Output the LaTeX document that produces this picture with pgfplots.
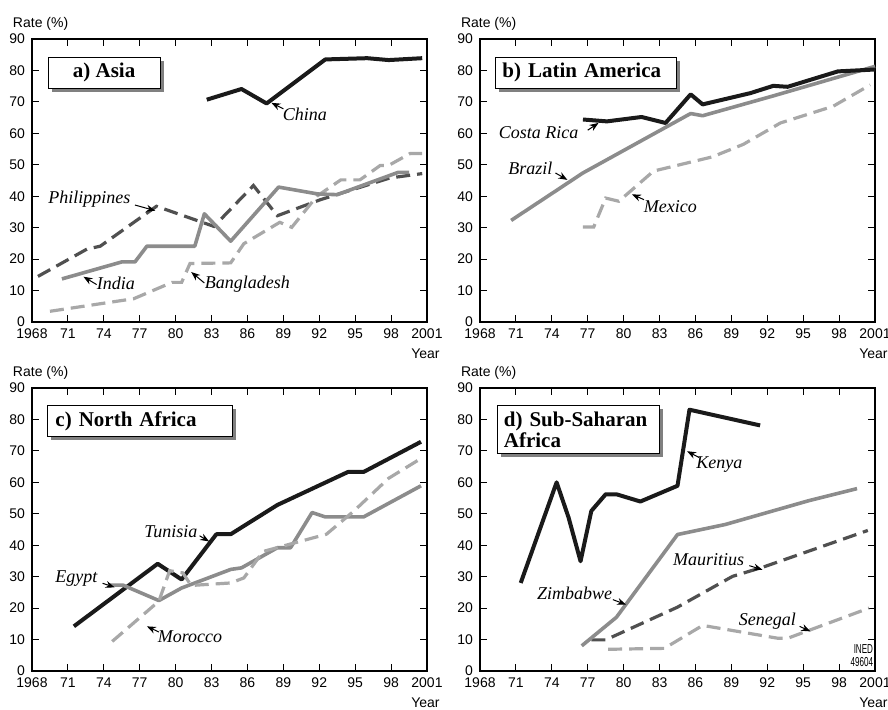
\documentclass[border=0pt]{standalone}
\usepackage{fontspec}
\setmainfont{Liberation Sans}
\newfontfamily\tms{Liberation Serif}
\usepackage{pgfplots}
\pgfplotsset{compat=1.18}
\usetikzlibrary{arrows.meta,shadows}

\definecolor{cblack}{HTML}{1A1A1A}
\definecolor{cdark}{HTML}{505050}
\definecolor{cmid}{HTML}{8C8C8C}
\definecolor{clight}{HTML}{A8A8A8}

\newcommand{\tkfont}{\fontsize{7}{8}\selectfont}

\pgfplotsset{
  panel/.style={
    scale only axis, width=197.5pt, height=141.5pt,
    xmin=1968, xmax=2001, ymin=0, ymax=90,
    xtick={1968,1971,...,2001},
    xticklabels={1968,71,74,77,80,83,86,89,92,95,98,2001},
    ytick={0,10,...,90},
    tick align=inside, tick pos=both, ticklabel pos=left,
    major tick length=3.5pt,
    tick style={black, line width=0.5pt},
    axis line style={black, line width=0.6pt},
    every tick label/.append style={font=\tkfont, black},
    /pgf/number format/assume math mode=true,
    ylabel={Rate (\%)},
    ylabel style={rotate=-90, at={(rel axis cs:0,1)}, anchor=base west,
      inner sep=0pt, xshift=-9.7pt, yshift=6pt, font=\tkfont},
    xlabel={Year},
    xlabel style={at={(rel axis cs:1,0)}, anchor=north east,
      inner sep=0pt, xshift=6.5pt, yshift=-13pt, font=\tkfont},
    clip=false,
  },
  blk/.style={color=cblack, line width=2pt, line join=round},
  drk/.style={color=cdark, line width=1.6pt, dash pattern=on 7pt off 3.5pt},
  mid/.style={color=cmid, line width=1.8pt, line join=round},
  lgt/.style={color=clight, line width=1.6pt, dash pattern=on 7pt off 3.5pt},
}
\tikzset{
  box/.style={draw=black, line width=0.5pt, fill=white, inner sep=0pt,
    font=\tms\bfseries\fontsize{10.5}{9.5}\selectfont,
    drop shadow={opacity=1, fill=black!50, shadow xshift=1.8pt, shadow yshift=-1.8pt}},
  cname/.style={font=\tms\itshape\fontsize{9}{10}\selectfont, inner sep=0pt},
  arr/.style={-{Stealth[length=4.5pt,width=3.5pt]}, line width=0.5pt, black},
}

\begin{document}
\begin{tikzpicture}
\path[use as bounding box] (0,0) rectangle (444pt,355pt);

% a) Asia
\begin{axis}[panel, at={(16pt,194pt)}, anchor=south west]
\addplot[drk] coordinates {(1968.5,14.5) (1972.6,23.2) (1973.7,24.1) (1978.4,36.8) (1983.2,30.4) (1986.5,43.4) (1988.5,33.8) (1992.1,38.9) (1997.9,45.8) (2000.6,47.2)};
\addplot[lgt] coordinates {(1969.5,3.4) (1976.5,7.4) (1979.7,12.6) (1980.5,12.6) (1981.2,18.6) (1984.6,18.8) (1985.7,24.9) (1988.7,31.7) (1989.7,30.1) (1991.8,40) (1993.8,45.2) (1995.4,45.2) (1997.1,49.8) (1997.8,49.8) (1999.6,53.6) (2000.6,53.6)};
\addplot[mid] coordinates {(1970.5,13.7) (1975.5,19.1) (1976.6,19.1) (1977.6,24.1) (1981.6,24.1) (1982.4,34.4) (1984.6,25.7) (1988.6,42.9) (1991.9,40.7) (1993.5,40.5) (1998.6,47.6) (1999.5,47.6)};
\addplot[blk] coordinates {(1982.6,70.7) (1985.5,74.1) (1987.6,69.5) (1992.5,83.5) (1996,83.9) (1997.8,83.3) (2000.6,83.9)};
\node[box, minimum width=56pt, minimum height=15.5pt, anchor=north west] at (axis cs:1969.3,84.3) {a) Asia};
\node[cname] at (axis cs:1990.8,66.0) {China};
\draw[arr] (axis cs:1989.0,67.8) -- (axis cs:1988.0,69.7);
\node[cname] at (axis cs:1972.8,39.2) {Philippines};
\draw[arr] (axis cs:1976.6,37.2) -- (axis cs:1978.3,35.4);
\node[cname] at (axis cs:1975.0,12.4) {India};
\draw[arr] (axis cs:1973.4,11.9) -- (axis cs:1972.3,14.4);
\node[cname] at (axis cs:1986.0,11.9) {Bangladesh};
\draw[arr] (axis cs:1982.4,12.4) -- (axis cs:1981.3,15.9);
\end{axis}

% b) Latin America
\begin{axis}[panel, at={(240pt,194pt)}, anchor=south west]
\addplot[lgt] coordinates {(1976.6,30.2) (1977.5,30.2) (1978.5,39.4) (1979.6,38.4) (1982.5,48.0) (1987.4,52.5) (1990,56.5) (1993.1,63.3) (1997.5,68.6) (2000.6,75.4)};
\addplot[mid] coordinates {(1970.6,32.3) (1976.6,47.4) (1985.6,66.3) (1986.6,65.6) (1992.4,71.8) (2001,81.3)};
\addplot[blk] coordinates {(1976.6,64.4) (1978.6,63.8) (1981.5,65.2) (1983.5,63.3) (1985.6,72.4) (1986.6,69.2) (1990.6,72.8) (1992.5,75.1) (1993.7,74.8) (1997.9,79.7) (2001,80.3)};
\node[box, text width=83.7pt, align=left, inner xsep=3.5pt, minimum height=15.5pt, anchor=north west] at (axis cs:1969.25,84.3) {b) Latin America};
\node[cname] at (axis cs:1972.9,60.1) {Costa Rica};
\draw[arr] (axis cs:1977.0,61.0) -- (axis cs:1977.9,63.3);
\node[cname] at (axis cs:1972.2,49.0) {Brazil};
\draw[arr] (axis cs:1974.3,47.4) -- (axis cs:1975.3,45.2);
\node[cname] at (axis cs:1983.9,36.8) {Mexico};
\draw[arr] (axis cs:1981.7,38.9) -- (axis cs:1980.7,40.6);
\end{axis}

% c) North Africa
\begin{axis}[panel, at={(16pt,19.5pt)}, anchor=south west]
\addplot[blk] coordinates {(1971.5,14.2) (1978.5,34.1) (1980.5,29.1) (1983.4,43.5) (1984.6,43.5) (1988.5,52.8) (1994.4,63.3) (1995.7,63.3) (2000.5,72.9)};
\addplot[mid] coordinates {(1974.5,27.3) (1975.6,27.3) (1978.6,22.4) (1980.5,26.4) (1984.6,32.3) (1985.5,32.8) (1988.5,39.2) (1989.6,39.2) (1991.4,50.4) (1992.5,49.0) (1995.7,49.0) (2000.5,58.9)};
\addplot[lgt] coordinates {(1974.7,9.4) (1978.6,22.2) (1979.5,31.9) (1980.6,31.2) (1981.3,27.2) (1984.6,28.0) (1985.7,29.6) (1987.3,38.0) (1992.6,43.5) (1994.9,50.9) (1997.8,61.3) (2000.5,67.6)};
\node[box, text width=84.7pt, align=left, inner xsep=4pt, minimum height=15.3pt, anchor=north west] at (axis cs:1969.25,84.5) {c) North Africa};
\node[cname] at (axis cs:1979.6,44.3) {Tunisia};
\draw[arr] (axis cs:1982.0,43.0) -- (axis cs:1982.8,41.2);
\node[cname] at (axis cs:1971.7,29.4) {Egypt};
\draw[arr] (axis cs:1973.9,27.9) -- (axis cs:1974.9,26.6);
\node[cname] at (axis cs:1981.2,10.9) {Morocco};
\draw[arr] (axis cs:1978.6,12.4) -- (axis cs:1977.6,14.2);
\end{axis}

% d) Sub-Saharan Africa
\begin{axis}[panel, at={(240pt,19.5pt)}, anchor=south west]
\addplot[lgt] coordinates {(1978.7,6.9) (1983.4,7.2) (1986.6,14.5) (1992.9,10.4) (1993.7,10.4) (2000.5,20.0)};
\addplot[drk] coordinates {(1977.3,9.9) (1978.5,9.9) (1984.5,20.3) (1989.1,30.1) (1991.7,33.1) (2000.4,44.7)};
\addplot[mid] coordinates {(1976.5,8.0) (1979.4,17.1) (1984.5,43.4) (1988.5,46.6) (1995.4,54.1) (1999.5,58.0)};
\addplot[blk] coordinates {(1971.4,28.0) (1974.4,60.0) (1975.4,48.8) (1976.4,34.9) (1977.3,50.9) (1978.5,56.2) (1979.4,56.2) (1981.4,53.9) (1984.5,58.9) (1985.5,83.1) (1991.4,78.1)};
\node[box, text width=75pt, align=left, inner xsep=3pt, minimum height=24pt, anchor=north west] at (axis cs:1969.45,84.5) {\mbox{d) Sub-Saharan}\\Africa};
\node[cname] at (axis cs:1988.0,65.6) {Kenya};
\draw[arr] (axis cs:1986.3,67.9) -- (axis cs:1985.3,69.9);
\node[cname] at (axis cs:1975.9,24.8) {Zimbabwe};
\draw[arr] (axis cs:1979.1,22.7) -- (axis cs:1980.2,21.1);
\node[cname] at (axis cs:1987.1,35.3) {Mauritius};
\draw[arr] (axis cs:1990.5,33.5) -- (axis cs:1991.6,32.2);
\node[cname] at (axis cs:1992.0,15.8) {Senegal};
\draw[arr] (axis cs:1994.7,14.2) -- (axis cs:1995.6,12.6);
\node[anchor=south east, inner sep=0pt, align=right, xshift=-0.8pt, yshift=2pt, font=\fontsize{6.5}{6.5}\selectfont] at (rel axis cs:1,0) {\scalebox{0.62}[1]{INED}\\\scalebox{0.62}[1]{49604}};
\end{axis}
\end{tikzpicture}
\end{document}
